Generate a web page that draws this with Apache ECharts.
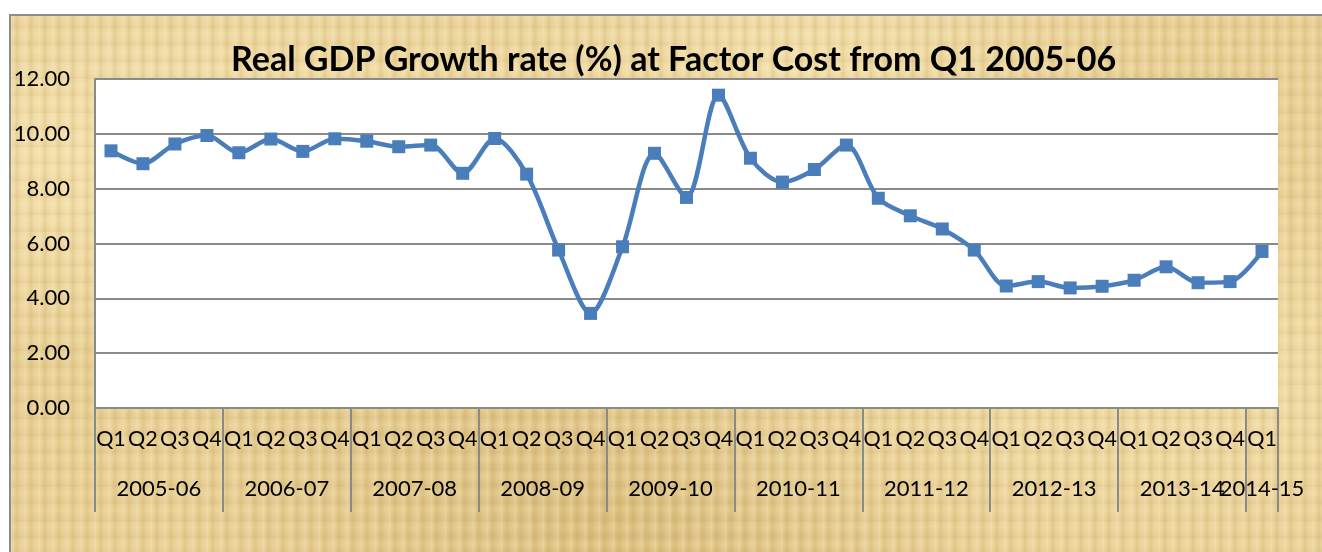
<!DOCTYPE html>
<html>
<head>
<meta charset="utf-8">
<script src="https://cdn.jsdelivr.net/npm/echarts@6/dist/echarts.min.js"></script>
<style>
  html, body { margin: 0; padding: 0; background: #fff; }
  #wrap { position: relative; width: 1322px; height: 552px; overflow: hidden; }
  #paper {
    position: absolute; left: 9px; top: 14px; width: 1330px; height: 560px;
    border: 2px solid #8c8c8c; box-sizing: border-box;
    background-color: #e6cd92;
    background-image:
      repeating-linear-gradient(90deg, rgba(255,244,205,0.30) 0px, rgba(255,244,205,0) 3px, rgba(180,145,70,0.16) 6px, rgba(255,244,205,0) 9px, rgba(255,244,205,0.2) 14px),
      repeating-linear-gradient(0deg, rgba(190,155,85,0.12) 0px, rgba(255,240,200,0) 5px, rgba(255,240,200,0.18) 11px, rgba(190,155,85,0) 17px),
      radial-gradient(ellipse at 15% 25%, rgba(250,233,185,0.75), rgba(250,233,185,0) 35%),
      radial-gradient(ellipse at 60% 10%, rgba(248,232,185,0.6), rgba(248,232,185,0) 30%),
      radial-gradient(ellipse at 85% 65%, rgba(245,226,175,0.6), rgba(245,226,175,0) 40%),
      radial-gradient(ellipse at 45% 90%, rgba(200,165,95,0.45), rgba(200,165,95,0) 40%);
  }
  #chart { position: absolute; left: 0; top: 0; width: 1322px; height: 552px; }
</style>
</head>
<body>
<div id="wrap">
  <div id="paper"></div>
  <div id="chart"></div>
</div>
<script>
// quarters from Q1 2005-06 to Q1 2014-15
const quarters = ['Q1','Q2','Q3','Q4','Q1','Q2','Q3','Q4','Q1','Q2','Q3','Q4',
  'Q1','Q2','Q3','Q4','Q1','Q2','Q3','Q4','Q1','Q2','Q3','Q4',
  'Q1','Q2','Q3','Q4','Q1','Q2','Q3','Q4','Q1','Q2','Q3','Q4','Q1']
const years = ['2005-06','2006-07','2007-08','2008-09','2009-10',
  '2010-11','2011-12','2012-13','2013-14','2014-15']
const growth = [9.38, 8.91, 9.63, 9.94, 9.31, 9.81, 9.36, 9.82,
  9.73, 9.53, 9.59, 8.56, 9.83, 8.53, 5.76, 3.45,
  5.88, 9.29, 7.68, 11.41, 9.11, 8.24, 8.70, 9.59,
  7.65, 7.01, 6.53, 5.76, 4.45, 4.61, 4.38, 4.44,
  4.66, 5.15, 4.57, 4.61, 5.71]
const yTicks = [0, 2, 4, 6, 8, 10, 12]

const font = 'Lato, "Open Sans", sans-serif'
const band = (1322 - 95 - 44) / quarters.length

// year label sits on the Q2 of each year (or the only quarter of the last one)
const yearLabels = quarters.map((q, i) => {
  const g = Math.floor(i / 4)
  if (g === years.length - 1) return years[g]
  return i % 4 === 1 ? years[g] : ''
})

const chart = echarts.init(document.getElementById('chart'))
chart.setOption({
  animation: false,
  title: {
    text: 'Real GDP Growth rate (%) at Factor Cost from Q1 2005-06',
    left: 226,
    top: 38,
    textStyle: { fontFamily: font, fontWeight: 'bold', fontSize: 34, color: '#000' }
  },
  grid: {
    left: 95, right: 44, top: 79, bottom: 144,
    show: true, backgroundColor: '#fff', borderWidth: 0
  },
  xAxis: [{
    type: 'category',
    data: quarters,
    boundaryGap: true,
    axisLine: { lineStyle: { color: '#8a8a8a', width: 2 } },
    axisTick: {
      show: true,
      length: 104,
      interval: (i) => i % 4 === 0,
      lineStyle: { color: '#8a8a8a', width: 2 }
    },
    axisLabel: {
      interval: 0, margin: 20, color: '#000',
      fontFamily: font, fontSize: 21.5
    }
  }, {
    type: 'category',
    data: yearLabels,
    position: 'bottom',
    boundaryGap: true,
    axisLine: { show: false },
    axisTick: { show: false },
    axisLabel: {
      interval: 0, margin: 70, color: '#000',
      // shift group labels half a band right so they centre on their year
      formatter: (v, i) => (v ? (i === quarters.length - 1 ? '{e|' + v + '}' : '{s|' + v + '}') : ''),
      rich: {
        s: { fontFamily: font, fontSize: 22, color: '#000', padding: [0, 0, 0, band] },
        e: { fontFamily: font, fontSize: 22, color: '#000' }
      }
    }
  },],
  yAxis: {
    type: 'value',
    min: yTicks[0],
    max: yTicks[yTicks.length - 1],
    interval: 2,
    axisLine: { show: true, lineStyle: { color: '#8a8a8a', width: 2 } },
    axisTick: { show: false },
    splitLine: { lineStyle: { color: '#8a8a8a', width: 2 } },
    axisLabel: {
      margin: 25, color: '#000', fontFamily: font, fontSize: 22,
      formatter: (v) => v.toFixed(2)
    }
  },
  series: [{
    type: 'line',
    data: growth,
    smooth: 0.3,
    symbol: 'rect',
    symbolSize: 13,
    itemStyle: { color: '#4a7ebb' },
    lineStyle: { color: '#4a7ebb', width: 4.5 }
  }]
})
</script>
</body>
</html>
